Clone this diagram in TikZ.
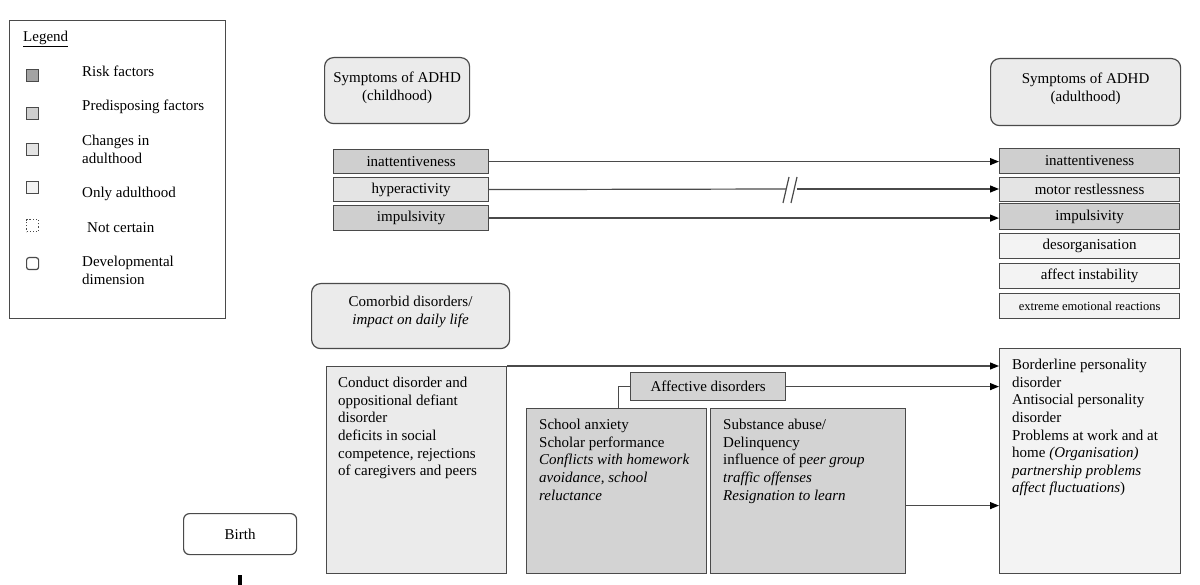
\documentclass[tikz,border=0pt]{standalone}
\usepackage{fontspec}
\setmainfont{Liberation Serif}
\usetikzlibrary{arrows.meta}
\definecolor{edge}{HTML}{4A4A4A}
\definecolor{risk}{HTML}{A3A3A3}
\definecolor{predis}{HTML}{CFCFCF}
\definecolor{chg}{HTML}{E4E4E4}
\definecolor{only}{HTML}{F3F3F3}
\definecolor{symfill}{HTML}{EBEBEB}
\definecolor{midfill}{HTML}{D3D3D3}
\begin{document}
\begin{tikzpicture}[x=1pt,y=-1pt,
  bx/.style={draw=edge, line width=1.2pt, inner sep=0pt, anchor=north west, align=center},
  rbx/.style={bx, rounded corners=9pt},
  txt/.style={anchor=north west, inner sep=0pt, align=left, yshift=-2pt},
  conn/.style={draw=edge, line width=1.2pt, -{Triangle[length=9pt,width=7pt,color=black]}},
  plain/.style={draw=edge, line width=1.2pt},
  font=\fontsize{15}{17.6}\selectfont]
\useasboundingbox (0,0) rectangle (1200,585);

% Legend
\node[bx, fill=white, line width=0.9pt, minimum width=216pt, minimum height=298pt] (legend) at (9,20) {};
\node[txt] (legt) at (23,29) {\underline{Legend}};
\node[bx, fill=risk, minimum size=12pt] (l1) at (26,69) {};
\node[bx, fill=predis, minimum size=12pt] (l2) at (26,107) {};
\node[bx, fill=chg, minimum size=12pt] (l3) at (26,143) {};
\node[bx, fill=only, minimum size=12pt] (l4) at (26,181) {};
\node[bx, fill=white, dotted, minimum size=12pt] (l5) at (26,219) {};
\node[bx, fill=white, rounded corners=2.5pt, minimum size=12pt] (l6) at (26,257) {};
\node[txt] (t1) at (82,64) {Risk factors};
\node[txt] (t2) at (82,98) {Predisposing factors};
\node[txt] (t3) at (82,133) {Changes in\\adulthood};
\node[txt] (t4) at (82,185) {Only adulthood};
\node[txt] (t5) at (87,220) {Not certain};
\node[txt] (t6) at (82,254) {Developmental\\dimension};

% Headers
\node[rbx, fill=symfill, minimum width=145pt, minimum height=66pt] (csym) at (324,57) {};
\node[anchor=north, inner sep=0pt, align=center] at ([yshift=-15pt]csym.north) {Symptoms of ADHD\\(childhood)};
\node[rbx, fill=symfill, minimum width=190pt, minimum height=67pt] (asym) at (990,58) {};
\node[anchor=north, inner sep=0pt, align=center] at ([yshift=-15pt]asym.north) {Symptoms of ADHD\\(adulthood)};

% Childhood bars
\node[bx, fill=predis, minimum width=155pt, minimum height=24pt] (ci) at (333,149) {inattentiveness};
\node[bx, fill=chg, minimum width=155pt, minimum height=24pt] (ch) at (333,177) {hyperactivity};
\node[bx, fill=predis, minimum width=155pt, minimum height=25pt] (cp) at (333,205) {impulsivity};

% Adulthood bars
\node[bx, fill=predis, minimum width=180pt, minimum height=25pt] (ai) at (999,148) {inattentiveness};
\node[bx, fill=chg, minimum width=180pt, minimum height=24pt] (am) at (999,177) {motor restlessness};
\node[bx, fill=predis, minimum width=180pt, minimum height=26pt] (ap) at (999,203) {impulsivity};
\node[bx, fill=only, minimum width=180pt, minimum height=25pt] (ad) at (999,233) {desorganisation};
\node[bx, fill=only, minimum width=180pt, minimum height=25pt] (aa) at (999,263) {affect instability};
\node[bx, fill=only, minimum width=180pt, minimum height=25pt, font=\fontsize{12.5}{14}\selectfont] (ae) at (999,293) {extreme emotional reactions};

% symptom arrows
\draw[conn] (ci.east) -- (ci.east -| ai.west);
\coordinate (b1) at (786,189);
\coordinate (b2) at (797,189);
\draw[plain] (ch.east) -- (b1);
\draw[conn] (b2) -- (b2 -| am.west);
\draw[plain] (783,203) -- (789,177) (791,203) -- (797,177);
\draw[conn] (cp.east) -- (cp.east -| ap.west);

% Comorbid
\node[rbx, fill=symfill, minimum width=198pt, minimum height=65pt] (com) at (311,283) {};
\node[anchor=north, inner sep=0pt, align=center] at ([yshift=-13pt]com.north) {Comorbid disorders/\\\textit{impact on daily life}};

\node[bx, fill=symfill, minimum width=180pt, minimum height=207pt] (cond) at (326,366) {};
\node[txt] at (338,375) {Conduct disorder and\\oppositional defiant\\disorder\\deficits in social\\competence, rejections\\of caregivers and peers};

\node[bx, fill=midfill, minimum width=155pt, minimum height=28pt] (aff) at (630,372) {Affective disorders};
\node[bx, fill=midfill, minimum width=180pt, minimum height=165pt] (school) at (526,408) {};
\node[txt] at (539,417) {School anxiety\\Scholar performance\\\textit{Conflicts with homework}\\\textit{avoidance, school}\\\textit{reluctance}};
\node[bx, fill=midfill, minimum width=195pt, minimum height=165pt] (subst) at (710,408) {};
\node[txt] at (723,417) {Substance abuse/\\Delinquency\\influence of p\textit{eer group}\\\textit{traffic offenses}\\\textit{Resignation to learn}};

\node[bx, fill=only, minimum width=181pt, minimum height=225pt] (bord) at (999,348) {};
\node[txt] at (1012,357) {Borderline personality\\disorder\\Antisocial personality\\disorder\\Problems at work and at\\home \textit{(Organisation)}\\\textit{partnership problems}\\\textit{affect fluctuations})};

\draw[conn] (cond.north east) -- (cond.north east -| bord.west);
\draw[conn] (aff.east) -- (aff.east -| bord.west);
\draw[plain] (aff.west) -| ([xshift=-89pt]school.north east);
\draw[conn] ([yshift=-14.5pt]subst.east) -- ([yshift=-14.5pt]subst.east -| bord.west);

% Birth
\node[rbx, fill=white, minimum width=113pt, minimum height=41pt, rounded corners=6pt] (birth) at (183,513) {Birth};
\draw[line width=4pt] ([yshift=-20pt]birth.south) -- ([yshift=-32pt]birth.south);
\end{tikzpicture}
\end{document}
